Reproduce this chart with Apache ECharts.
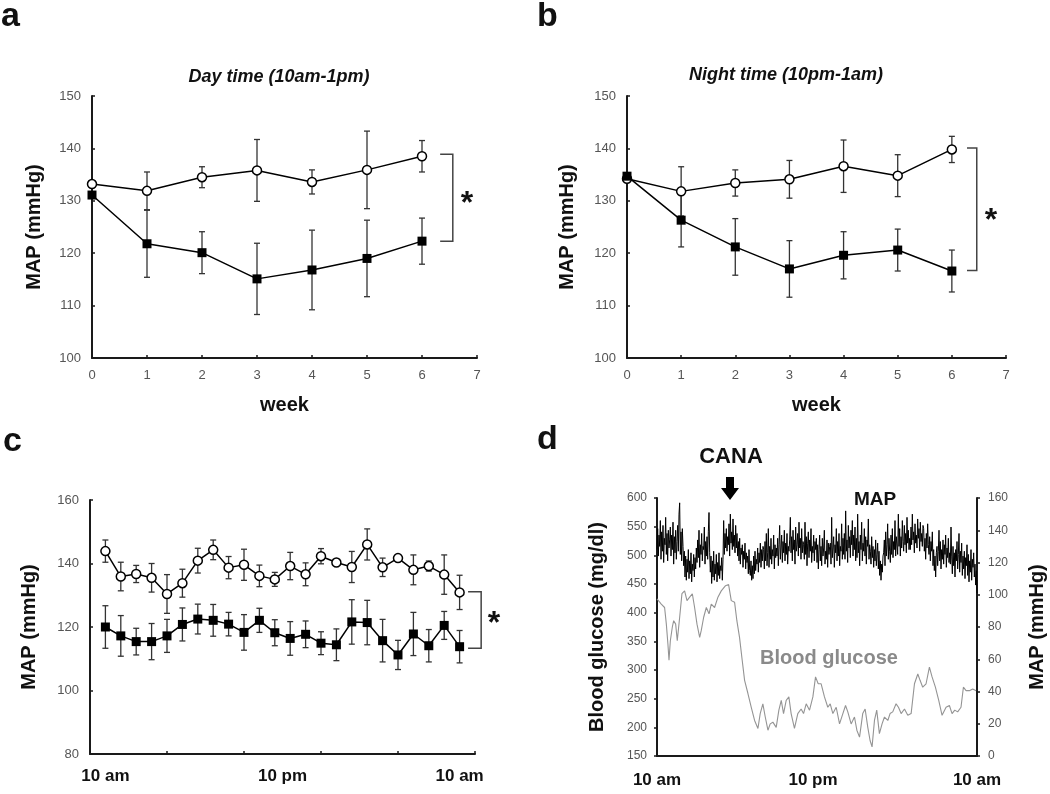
<!DOCTYPE html>
<html>
<head>
<meta charset="utf-8">
<title>MAP and blood glucose</title>
<script src="https://cdn.jsdelivr.net/npm/echarts@6/dist/echarts.min.js"></script>
<style>
  html, body { margin: 0; padding: 0; background: #fff; }
  #chart { width: 1050px; height: 794px; }
</style>
</head>
<body>
<div id="chart"></div>
<script>
// panel a / b : weekly MAP, mean and error
const weeks = [0, 1, 2, 3, 4, 5, 6];
const dayCtrl = [133.2, 131.9, 134.5, 135.8, 133.6, 135.9, 138.5];
const dayCtrlErr = [0.6, 3.6, 2.0, 5.9, 2.3, 7.4, 3.0];
const dayCana = [131.1, 121.8, 120.1, 115.1, 116.8, 119.0, 122.3];
const dayCanaErr = [0.6, 6.4, 4.0, 6.8, 7.6, 7.3, 4.4];

const nightCtrl = [134.2, 131.8, 133.4, 134.1, 136.6, 134.8, 139.8];
const nightCtrlErr = [0.5, 4.7, 2.5, 3.6, 5.0, 4.0, 2.5];
const nightCana = [134.7, 126.3, 121.2, 117.0, 119.6, 120.6, 116.6];
const nightCanaErr = [0.5, 5.1, 5.4, 5.4, 4.5, 4.0, 4.0];

// panel c : hourly MAP over 24 h
const hours = [1, 2, 3, 4, 5, 6, 7, 8, 9, 10, 11, 12, 13, 14, 15, 16, 17, 18, 19, 20, 21, 22, 23, 24];
const hourCtrl = [143.9, 135.9, 136.7, 135.5, 130.4, 133.8, 140.9, 144.3, 138.7, 139.6, 136.1, 135.0,
  139.2, 136.6, 142.3, 140.3, 138.9, 146.0, 138.8, 141.7, 138.0, 139.2, 136.5, 130.9];
const hourCtrlErr = [3.5, 4.5, 2.7, 4.5, 6.1, 4.4, 3.9, 3.1, 3.5, 4.9, 3.4, 2.2,
  4.3, 3.6, 2.4, 0.8, 4.9, 4.9, 2.9, 0.8, 4.7, 1.6, 6.2, 5.4];
const hourCana = [120.0, 117.2, 115.4, 115.4, 117.2, 120.8, 122.5, 122.1, 120.9, 118.3, 122.1, 118.2,
  116.4, 117.7, 114.9, 114.4, 121.6, 121.4, 115.7, 111.2, 117.8, 114.1, 120.5, 113.8];
const hourCanaErr = [6.7, 6.4, 4.2, 5.7, 5.2, 5.2, 4.7, 5.0, 3.7, 5.6, 3.8, 4.1,
  5.3, 4.2, 3.6, 5.0, 7.0, 7.0, 6.7, 4.6, 6.8, 5.1, 4.4, 5.1];

// panel d : MAP telemetry, one reading every 3 min, 20 per row = 1 hour
const mapTrace = [
  128, 141, 124, 137, 130, 146, 122, 139, 127, 143, 120, 135, 131, 148, 125, 138, 121, 140, 129, 134,
  142, 124, 137, 128, 145, 119, 136, 126, 140, 122, 133, 143, 127, 150, 157, 125, 139, 121, 141, 130,
  118, 127, 111, 124, 109, 122, 114, 128, 110, 121, 113, 126, 108, 119, 115, 125, 111, 123, 116, 129,
  120, 134, 123, 140, 117, 131, 125, 138, 121, 130, 128, 142, 119, 133, 124, 136, 122, 139, 151, 126,
  114, 124, 107, 121, 111, 127, 109, 119, 113, 125, 108, 120, 112, 126, 110, 118, 115, 123, 109, 122,
  146, 125, 138, 129, 141, 127, 136, 131, 144, 124, 150, 132, 139, 128, 147, 130, 137, 126, 143, 129,
  138, 124, 133, 121, 135, 119, 129, 125, 131, 117, 127, 122, 132, 116, 126, 120, 124, 113, 128, 115,
  112, 121, 109, 118, 110, 124, 113, 127, 115, 122, 119, 129, 114, 126, 120, 132, 117, 128, 121, 130,
  128, 116, 133, 121, 138, 118, 126, 141, 117, 130, 122, 135, 119, 128, 124, 137, 116, 131, 123, 129,
  124, 135, 118, 131, 143, 122, 129, 137, 120, 133, 126, 140, 121, 132, 125, 138, 119, 130, 127, 134,
  148, 126, 136, 121, 140, 128, 134, 119, 142, 127, 131, 138, 124, 145, 129, 135, 122, 141, 126, 133,
  131, 122, 145, 125, 136, 118, 132, 139, 123, 134, 127, 141, 120, 130, 126, 137, 121, 133, 128, 135,
  120, 131, 116, 128, 137, 121, 130, 118, 135, 124, 129, 140, 119, 127, 122, 134, 117, 132, 125, 130,
  132, 119, 148, 123, 129, 136, 117, 131, 126, 141, 121, 133, 124, 138, 118, 130, 127, 144, 122, 135,
  125, 138, 122, 152, 127, 134, 120, 143, 129, 136, 123, 140, 131, 146, 124, 137, 128, 142, 121, 135,
  123, 150, 126, 133, 118, 137, 128, 145, 121, 132, 127, 141, 124, 136, 119, 134, 130, 147, 122, 131,
  127, 119, 136, 123, 130, 117, 128, 121, 134, 118, 125, 132, 116, 127, 112, 121, 109, 119, 114, 124,
  126, 134, 118, 139, 124, 131, 144, 122, 135, 127, 120, 137, 125, 141, 123, 133, 128, 146, 124, 136,
  137, 125, 150, 130, 141, 124, 136, 129, 146, 133, 127, 143, 131, 138, 126, 148, 132, 140, 128, 135,
  128, 142, 131, 150, 134, 139, 126, 144, 132, 137, 129, 147, 135, 141, 127, 145, 133, 138, 130, 143,
  141, 127, 135, 122, 138, 129, 144, 131, 125, 136, 121, 133, 127, 139, 118, 128, 115, 124, 111, 126,
  130, 118, 127, 140, 121, 133, 116, 128, 122, 134, 119, 131, 125, 137, 117, 129, 123, 135, 120, 126,
  119, 142, 124, 113, 130, 118, 126, 111, 128, 121, 133, 116, 125, 138, 114, 127, 120, 132, 112, 124,
  116, 127, 110, 123, 118, 131, 112, 125, 108, 121, 114, 128, 109, 122, 117, 126, 111, 119, 106, 115,
  101
];
const bgHours = [0.00, 0.32, 0.57, 0.70, 0.82, 0.90, 1.00, 1.15, 1.25, 1.40, 1.52, 1.70, 1.87, 2.07, 2.25,
  2.45, 2.65, 2.82, 3.00, 3.20, 3.32, 3.50, 3.70, 3.90, 4.07, 4.32, 4.57, 4.82, 5.14, 5.37, 5.57, 5.82,
  5.99, 6.19, 6.39, 6.57, 6.82, 7.07, 7.32, 7.57, 7.74, 7.94, 8.12, 8.32, 8.49, 8.69, 8.94, 9.14, 9.32,
  9.49, 9.69, 9.89, 10.06, 10.31, 10.56, 10.81, 10.99, 11.19, 11.44, 11.69, 11.89, 12.09, 12.31, 12.56,
  12.81, 12.99, 13.19, 13.44, 13.69, 13.94, 14.14, 14.31, 14.56, 14.81, 14.99, 15.19, 15.43, 15.61,
  15.81, 15.98, 16.13, 16.31, 16.48, 16.68, 16.88, 17.06, 17.31, 17.48, 17.68, 17.93, 18.11, 18.31,
  18.56, 18.81, 19.06, 19.31, 19.56, 19.73, 19.93, 20.18, 20.43, 20.63, 20.88, 21.13, 21.38, 21.68,
  21.93, 22.13, 22.33, 22.55, 22.80, 22.98, 23.18, 23.43, 23.68, 23.93];
const bgValues = [424, 415, 409, 380, 345, 317, 351, 375, 386, 380, 351, 392, 433, 438, 421,
  427, 433, 409, 380, 357, 369, 392, 409, 398, 415, 409, 427, 438, 447, 449, 421, 418,
  386, 357, 317, 282, 259, 235, 212, 198, 224, 241, 218, 195, 206, 209, 200, 230, 247,
  224, 247, 253, 224, 198, 224, 232, 224, 241, 230, 253, 288, 276, 276, 253,
  235, 241, 224, 235, 206, 224, 238, 227, 206, 218, 195, 183, 224, 232,
  200, 177, 166, 212, 230, 189, 206, 218, 212, 224, 227, 241, 235, 224,
  232, 221, 224, 276, 293, 282, 270, 276, 305, 288, 270, 247, 221, 235,
  238, 224, 230, 227, 235, 270, 264, 264, 267, 264];

const timeLabels = ['10 am', '10 pm', '10 am'];
const cTimePos = [1, 12.5, 24];
const dTimePos = [0, 11.7, 24];

const FONT = '"Liberation Sans", Arial, Helvetica, sans-serif';
const INK = '#111';

const axisLine = { show: true, lineStyle: { color: '#1a1a1a', width: 2 } };
const tickLabel = { color: '#555', fontSize: 13, fontFamily: FONT };
const nameStyle = { color: INK, fontSize: 20, fontWeight: 'bold', fontFamily: FONT };

function valueAxis(gridIndex, min, max, interval, extra) {
  return Object.assign({
    type: 'value', gridIndex: gridIndex, min: min, max: max, interval: interval,
    axisLine: axisLine,
    axisTick: { show: true, inside: true, length: 3, lineStyle: { color: '#1a1a1a', width: 1.5 } },
    axisLabel: Object.assign({ margin: 11 }, tickLabel),
    splitLine: { show: false }
  }, extra || {});
}

function timeLabel(positions) {
  return function (v) {
    const k = positions.findIndex(p => Math.abs(p - v) < 0.01);
    return k < 0 ? '' : timeLabels[k];
  };
}

function errorBars(axis, xs, means, errs) {
  return {
    type: 'custom', xAxisIndex: axis, yAxisIndex: axis, z: 2, silent: true,
    data: xs.map((x, i) => [x, means[i] - errs[i], means[i] + errs[i]]),
    encode: { x: 0, y: [1, 2] },
    renderItem: function (params, api) {
      const lo = api.coord([api.value(0), api.value(1)]);
      const hi = api.coord([api.value(0), api.value(2)]);
      const w = 3;
      const st = { stroke: '#333', lineWidth: 1.3 };
      return {
        type: 'group',
        children: [
          { type: 'line', shape: { x1: hi[0], y1: hi[1], x2: lo[0], y2: lo[1] }, style: st },
          { type: 'line', shape: { x1: hi[0] - w, y1: hi[1], x2: hi[0] + w, y2: hi[1] }, style: st },
          { type: 'line', shape: { x1: lo[0] - w, y1: lo[1], x2: lo[0] + w, y2: lo[1] }, style: st }
        ]
      };
    }
  };
}

function meanLine(axis, xs, ys, filled) {
  return {
    type: 'line', xAxisIndex: axis, yAxisIndex: axis, z: filled ? 4 : 3, silent: true,
    data: xs.map((x, i) => [x, ys[i]]),
    symbol: filled ? 'rect' : 'circle',
    symbolSize: 9,
    showAllSymbol: true,
    itemStyle: filled ? { color: '#000' } : { color: '#fff', borderColor: '#000', borderWidth: 1.5 },
    lineStyle: { color: '#000', width: 1.5 }
  };
}

// significance bracket, drawn outside the plot area
function bracket(axis, x0, x1, yTop, yBot) {
  return {
    type: 'custom', xAxisIndex: axis, yAxisIndex: axis, z: 3, silent: true, clip: false,
    data: [[x0, x1, yTop, yBot]],
    encode: { x: [0, 1], y: [2, 3] },
    renderItem: function (params, api) {
      const a = api.coord([api.value(0), api.value(2)]);
      const b = api.coord([api.value(1), api.value(3)]);
      return {
        type: 'polyline',
        shape: { points: [[a[0], a[1]], [b[0], a[1]], [b[0], b[1]], [a[0], b[1]]] },
        style: { stroke: '#444', lineWidth: 1.5, fill: null }
      };
    }
  };
}

function label(text, x, y, size, extra) {
  return {
    type: 'text', x: x, y: y, silent: true,
    style: Object.assign({
      text: text, fill: INK, align: 'center', verticalAlign: 'middle',
      font: 'bold ' + size + 'px ' + FONT
    }, extra || {})
  };
}

const chart = echarts.init(document.getElementById('chart'), null, { renderer: 'canvas' });

chart.setOption({
  animation: false,
  backgroundColor: '#fff',
  grid: [
    { left: 92, top: 96, width: 385, height: 262 },
    { left: 627, top: 96, width: 379, height: 262 },
    { left: 90, top: 500, width: 385, height: 254 },
    { left: 657, top: 498, width: 320, height: 258 }
  ],
  xAxis: [
    valueAxis(0, 0, 7, 1, { name: 'week', nameLocation: 'middle', nameGap: 37, nameTextStyle: nameStyle }),
    valueAxis(1, 0, 7, 1, { name: 'week', nameLocation: 'middle', nameGap: 37, nameTextStyle: nameStyle }),
    valueAxis(2, 0, 25, 5, {
      axisLabel: {
        customValues: cTimePos, formatter: timeLabel(cTimePos), margin: 14,
        color: INK, fontSize: 17, fontWeight: 'bold', fontFamily: FONT
      }
    }),
    valueAxis(3, 0, 24, 12, {
      axisTick: { show: false },
      axisLabel: {
        customValues: dTimePos, formatter: timeLabel(dTimePos), margin: 16,
        color: INK, fontSize: 17, fontWeight: 'bold', fontFamily: FONT
      }
    })
  ],
  yAxis: [
    valueAxis(0, 100, 150, 10, { name: 'MAP (mmHg)', nameLocation: 'middle', nameGap: 48, nameTextStyle: nameStyle }),
    valueAxis(1, 100, 150, 10, { name: 'MAP (mmHg)', nameLocation: 'middle', nameGap: 50, nameTextStyle: nameStyle }),
    valueAxis(2, 80, 160, 20, { name: 'MAP (mmHg)', nameLocation: 'middle', nameGap: 51, nameTextStyle: nameStyle }),
    valueAxis(3, 150, 600, 50, {
      name: 'Blood glucose (mg/dl)', nameLocation: 'middle', nameGap: 50, nameTextStyle: nameStyle,
      axisTick: { show: true, inside: false, length: 3, lineStyle: { color: '#1a1a1a', width: 1.5 } },
      axisLabel: Object.assign({ margin: 10 }, tickLabel, { fontSize: 12 })
    }),
    valueAxis(3, 0, 160, 20, {
      position: 'right',
      name: 'MAP (mmHg)', nameLocation: 'middle', nameGap: 50, nameTextStyle: nameStyle,
      axisTick: { show: true, inside: false, length: 3, lineStyle: { color: '#1a1a1a', width: 1.5 } },
      axisLabel: Object.assign({ margin: 11 }, tickLabel, { fontSize: 12 })
    })
  ],
  series: [
    errorBars(0, weeks, dayCtrl, dayCtrlErr),
    errorBars(0, weeks, dayCana, dayCanaErr),
    meanLine(0, weeks, dayCtrl, false),
    meanLine(0, weeks, dayCana, true),
    bracket(0, 6.33, 6.56, 138.9, 122.3),

    errorBars(1, weeks, nightCtrl, nightCtrlErr),
    errorBars(1, weeks, nightCana, nightCanaErr),
    meanLine(1, weeks, nightCtrl, false),
    meanLine(1, weeks, nightCana, true),
    bracket(1, 6.28, 6.46, 140.1, 116.7),

    errorBars(2, hours, hourCtrl, hourCtrlErr),
    errorBars(2, hours, hourCana, hourCanaErr),
    meanLine(2, hours, hourCtrl, false),
    meanLine(2, hours, hourCana, true),
    bracket(2, 24.55, 25.4, 131.1, 113.3),

    {
      type: 'line', xAxisIndex: 3, yAxisIndex: 3, z: 2, silent: true, symbol: 'none',
      data: bgHours.map((h, i) => [h, bgValues[i]]),
      lineStyle: { color: '#949494', width: 1.1 }
    },
    {
      type: 'line', xAxisIndex: 3, yAxisIndex: 4, z: 3, silent: true, symbol: 'none',
      data: mapTrace.map((v, i) => [i / 20, v]),
      lineStyle: { color: '#000', width: 1 }
    }
  ],
  graphic: [
    label('a', 1, 17, 34, { align: 'left' }),
    label('b', 537, 17, 34, { align: 'left' }),
    label('c', 3, 442, 34, { align: 'left' }),
    label('d', 537, 440, 34, { align: 'left' }),
    label('Day time (10am-1pm)', 279, 77, 18, { font: 'italic bold 18px ' + FONT }),
    label('Night time (10pm-1am)', 786, 75, 18, { font: 'italic bold 18px ' + FONT }),
    label('*', 467, 204, 32),
    label('*', 991, 221, 32),
    label('*', 494, 624, 32),
    label('CANA', 731, 457, 22),
    label('MAP', 875, 500, 19),
    label('Blood glucose', 829, 658, 20, { fill: '#8a8a8a' }),
    {
      type: 'polygon', silent: true,
      shape: { points: [[726, 477], [734, 477], [734, 488], [739, 488], [730, 500], [721, 488], [726, 488]] },
      style: { fill: '#000' }
    }
  ]
});
</script>
</body>
</html>
